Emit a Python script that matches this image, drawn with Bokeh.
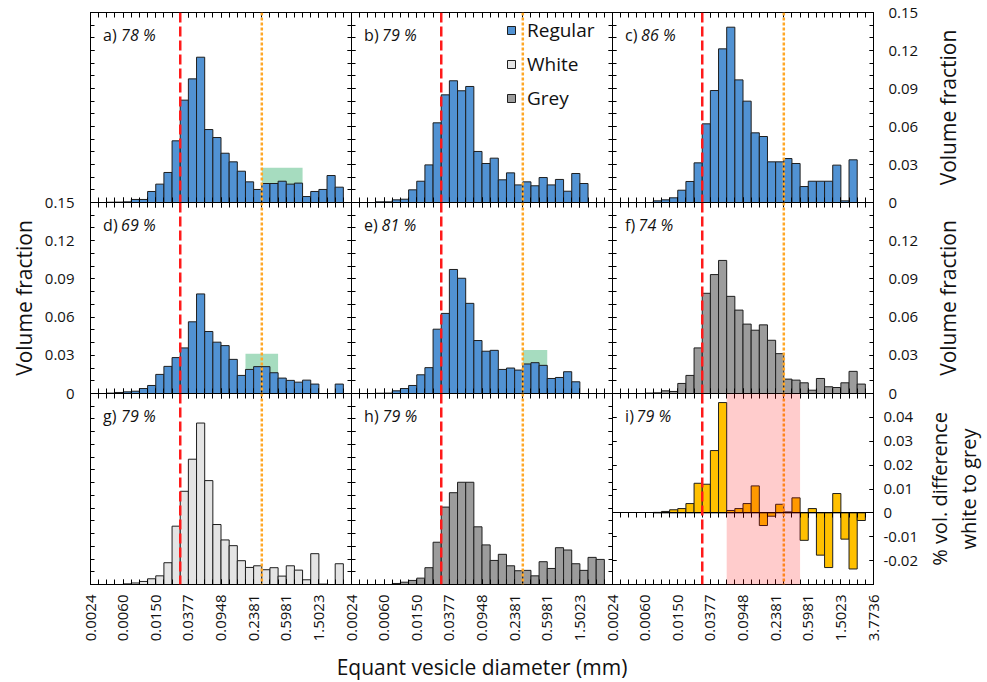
import numpy as np
from bokeh.plotting import figure
from bokeh.models import (Range1d, FixedTicker, LogAxis, LinearAxis, CustomJSTickFormatter,
                          Span, BoxAnnotation, Label, Legend, LegendItem, ColumnDataSource)
from bokeh.layouts import row, column
from bokeh.embed import file_html
from bokeh.resources import INLINE

# ------------------------------------------------------------------ data
d_max_mm = 3.7736          # upper diameter of the last bin (mm)
n_bins = 32                # 32 bins, 0.1 log10-unit wide each
diam_tick_labels = ["0.0024", "0.0060", "0.0150", "0.0377", "0.0948",
                    "0.2381", "0.5981", "1.5023", "3.7736"]
vf_tick_values = [0.0, 0.03, 0.06, 0.09, 0.12, 0.15]
vf_tick_labels = ["0", "0.03", "0.06", "0.09", "0.12", "0.15"]
diff_tick_values = [-0.02, -0.01, 0.0, 0.01, 0.02, 0.03, 0.04]
diff_tick_labels = ["-0.02", "-0.01", "0", "0.01", "0.02", "0.03", "0.04"]

panel_letters = ["a", "b", "c", "d", "e", "f", "g", "h", "i"]
panel_percent = ["78 %", "79 %", "86 %", "69 %", "81 %", "74 %", "79 %", "79 %", "79 %"]
panel_kind = ["Regular", "Regular", "Regular", "Regular", "Regular",
              "Grey", "White", "Grey", "Difference"]
right_titles = ["Volume fraction", "Volume fraction", "% vol. difference\nwhite to grey"]
x_title = "Equant vesicle diameter (mm)"
left_title = "Volume fraction"

vol_a = [0, 0, 0.0002, 0.0003, 0.0005, 0.0024, 0.0024, 0.0087, 0.0145, 0.0237, 0.0487,
         0.0808, 0.0976, 0.1147, 0.0576, 0.0513, 0.0389, 0.0321, 0.0247, 0.0163, 0.0103,
         0.0150, 0.0150, 0.0168, 0.0145, 0.0153, 0.0047, 0.0087, 0.0103, 0.0213, 0.0121, 0]
vol_b = [0, 0, 0, 0.0005, 0.0005, 0.0021, 0.0026, 0.0100, 0.0168, 0.0297, 0.0629,
         0.0850, 0.0961, 0.0882, 0.0916, 0.0403, 0.0308, 0.0350, 0.0179, 0.0234, 0.0139,
         0.0163, 0.0132, 0.0197, 0.0139, 0.0182, 0.0089, 0.0229, 0.0150, 0, 0, 0]
vol_c = [0, 0, 0, 0, 0, 0.0013, 0.0021, 0.0037, 0.0097, 0.0166, 0.0313,
         0.0621, 0.0884, 0.1213, 0.1384, 0.0968, 0.0800, 0.0550, 0.0521, 0.0321, 0.0321,
         0.0347, 0.0308, 0.0126, 0.0168, 0.0168, 0.0168, 0.0295, 0.0013, 0.0337, 0, 0]
vol_d = [0, 0, 0.0003, 0.0008, 0.0013, 0.0018, 0.0039, 0.0063, 0.0150, 0.0213, 0.0282,
         0.0358, 0.0563, 0.0782, 0.0487, 0.0403, 0.0376, 0.0268, 0.0142, 0.0189, 0.0211,
         0.0211, 0.0163, 0.0121, 0.0103, 0.0089, 0.0105, 0.0074, 0, 0, 0.0074, 0]
vol_e = [0, 0, 0, 0.0002, 0.0003, 0.0021, 0.0039, 0.0063, 0.0147, 0.0203, 0.0505,
         0.0629, 0.0974, 0.0905, 0.0708, 0.0416, 0.0332, 0.0339, 0.0189, 0.0200, 0.0184,
         0.0232, 0.0242, 0.0221, 0.0118, 0.0126, 0.0171, 0.0092, 0, 0, 0, 0]
vol_f = [0, 0, 0, 0, 0.0003, 0.0005, 0.0021, 0.0016, 0.0079, 0.0142, 0.0358,
         0.0787, 0.0934, 0.1045, 0.0763, 0.0655, 0.0545, 0.0497, 0.0539, 0.0418, 0.0313,
         0.0113, 0.0105, 0.0084, 0.0026, 0.0118, 0.0053, 0.0047, 0.0084, 0.0174, 0.0074, 0]
vol_g = [0, 0, 0, 0, 0.0005, 0.0012, 0.0024, 0.0045, 0.0068, 0.0171, 0.0458,
         0.0732, 0.0984, 0.1268, 0.0816, 0.0471, 0.0350, 0.0305, 0.0187, 0.0134, 0.0147,
         0.0116, 0.0132, 0.0066, 0.0147, 0.0113, 0.0037, 0.0242, 0.0003, 0, 0.0163, 0]
vol_h = [0, 0, 0, 0, 0, 0.0008, 0.0018, 0.0032, 0.0050, 0.0132, 0.0332,
         0.0608, 0.0721, 0.0803, 0.0803, 0.0453, 0.0311, 0.0189, 0.0237, 0.0147, 0.0108,
         0.0111, 0.0068, 0.0179, 0.0126, 0.0289, 0.0271, 0.0163, 0.0111, 0.0213, 0.0197, 0]
diff_i = [0, 0, 0, 0, 0, 0.0002, 0.0006, 0.0013, 0.0018, 0.0039, 0.0124,
          0.0120, 0.0261, 0.0462, 0.0010, 0.0018, 0.0039, 0.0113, -0.0053, -0.0014, 0.0036,
          0.0004, 0.0063, -0.0115, 0.0018, -0.0177, -0.0229, 0.0081, -0.0110, -0.0235, -0.0032, 0]
panel_values = [vol_a, vol_b, vol_c, vol_d, vol_e, vol_f, vol_g, vol_h, diff_i]

red_line_mm = 0.03
orange_line_mm = 0.30
green_panels = ["a", "d", "e"]
green_left_mm = [0.2999, 0.1892, 0.2999]
green_right_mm = [0.9481, 0.4751, 0.5981]
green_top_vf = [0.0274, 0.0312, 0.0342]
pink_left_mm = 0.0598
pink_right_mm = 0.4751

# ------------------------------------------------------------------ style
FONT = "Open Sans"
TXT = "#111111"
colors = {"Regular": "#5192d3", "White": "#e4e4e4", "Grey": "#9c9c9c", "Difference": "#ffc000"}
FW = 261
FH = [190, 191, 191]
col_b = [(90, 10), (30, 30), (10, 112)]
row_b = [(12, 10), (10, 10), (10, 96)]
letter_offsets = [18, 18, 16, 18, 17.5, 13.5, 18, 18.5, 11.5]
# right-hand title strips: (left border, right border, overlap, font size, line height)
title_strip = [(40, 0, 64, "21px", 1.2), (40, 0, 64, "21px", 1.2), (40, 19, 62, "20px", 1.05)]

edges = d_max_mm * 10.0 ** (-0.1 * (n_bins - np.arange(n_bins + 1)))
diam_ticks = edges[::4].tolist()
diam_minor = edges.tolist()
vf_minor = [round(0.01 * k, 2) for k in range(16)]
diff_minor = [round(-0.03 + 0.01 * k, 2) for k in range(9)]

JS = """
let best = 0, bd = Infinity;
for (let k = 0; k < vals.length; k++) {
  const d = Math.abs(vals[k] - tick);
  if (d < bd) { bd = d; best = k; }
}
return labels[best];
"""


def setup_axis(ax, ticks, minor, vals=None, labels=None, tick_len=4, standoff=0):
    ax.ticker = FixedTicker(ticks=list(ticks), minor_ticks=list(minor))
    ax.major_tick_in = tick_len
    ax.major_tick_out = 0
    ax.minor_tick_in = tick_len
    ax.minor_tick_out = 0
    ax.axis_line_color = "black"
    ax.major_tick_line_color = "black"
    ax.minor_tick_line_color = "black"
    if labels is None:
        ax.formatter = CustomJSTickFormatter(code="return '';")
        ax.major_label_text_font_size = "0px"
        ax.major_label_standoff = 0
    else:
        ax.formatter = CustomJSTickFormatter(args=dict(vals=list(vals), labels=list(labels)), code=JS)
        ax.major_label_text_font = FONT
        ax.major_label_text_font_size = "15px"
        ax.major_label_text_color = TXT
        ax.major_label_standoff = standoff


def axis_title(ax, text, size="21px", standoff=4, line_height=1.2):
    ax.axis_label = text
    ax.axis_label_text_font = FONT
    ax.axis_label_text_font_size = size
    ax.axis_label_text_font_style = "normal"
    ax.axis_label_text_color = TXT
    ax.axis_label_standoff = standoff
    ax.axis_label_text_line_height = line_height


def make_panel(idx):
    r, c = divmod(idx, 3)
    kind = panel_kind[idx]
    is_diff = kind == "Difference"
    y0, y1 = (-0.03, 0.05) if is_diff else (0.0, 0.15)
    p = figure(frame_width=FW, frame_height=FH[r], x_axis_type="log", title=None,
               x_range=Range1d(edges[0], edges[-1]), y_range=Range1d(y0, y1),
               tools="", toolbar_location=None, output_backend="svg",
               min_border_left=col_b[c][0], min_border_right=col_b[c][1],
               min_border_top=row_b[r][0], min_border_bottom=row_b[r][1])
    p.border_fill_alpha = 0
    p.background_fill_alpha = 0
    p.outline_line_color = "black"
    p.xgrid.visible = False
    p.ygrid.visible = False

    top_ax = LogAxis()
    right_ax = LinearAxis()
    p.add_layout(top_ax, "above")
    p.add_layout(right_ax, "right")
    bottom_ax = p.below[0]
    left_ax = p.left[0]

    # x axes
    setup_axis(top_ax, diam_ticks, diam_minor, tick_len=5)
    if r == 2:
        tk = diam_ticks if c == 2 else diam_ticks[:-1]
        lb = diam_tick_labels if c == 2 else diam_tick_labels[:-1]
        setup_axis(bottom_ax, tk, diam_minor, vals=tk, labels=lb, tick_len=5, standoff=10)
        bottom_ax.major_label_orientation = np.pi / 2
        if c == 1:
            axis_title(bottom_ax, x_title, standoff=9)
    else:
        setup_axis(bottom_ax, diam_ticks, diam_minor, tick_len=5)

    # y axes
    if is_diff:
        setup_axis(left_ax, diff_minor, diff_minor)
        setup_axis(right_ax, diff_tick_values, diff_minor, vals=diff_tick_values,
                   labels=diff_tick_labels, standoff=10)
        # tick marks hanging from the zero line
        zero_ax = LogAxis(fixed_location=0)
        p.add_layout(zero_ax, "above")
        setup_axis(zero_ax, diam_ticks, diam_minor, tick_len=5)
    else:
        if idx == 3:
            setup_axis(left_ax, vf_tick_values, vf_minor, vals=vf_tick_values,
                       labels=vf_tick_labels, standoff=16)
            axis_title(left_ax, left_title, standoff=4)
        else:
            setup_axis(left_ax, vf_tick_values, vf_minor)
        if idx in (2, 5):
            tk = vf_tick_values if idx == 2 else vf_tick_values[:-1]
            lb = vf_tick_labels if idx == 2 else vf_tick_labels[:-1]
            setup_axis(right_ax, tk, vf_minor, vals=tk, labels=lb, standoff=15)
        else:
            setup_axis(right_ax, vf_tick_values, vf_minor)

    letter = panel_letters[idx]
    if letter in green_panels:
        g = green_panels.index(letter)
        p.quad(left=[green_left_mm[g]], right=[green_right_mm[g]], bottom=[0],
               top=[green_top_vf[g]], fill_color="#a6dcbf", line_alpha=0)

    vals = np.array(panel_values[idx])
    mask = vals != 0
    src = ColumnDataSource(dict(left=edges[:-1][mask], right=edges[1:][mask], top=vals[mask]))
    bars = p.quad(left="left", right="right", bottom=0, top="top", source=src,
                  fill_color=colors[kind], line_color="#1e1e1e", line_width=1)

    p.add_layout(Span(location=red_line_mm, dimension="height", line_color="#ff1a1a",
                      line_width=2.5, line_dash="10 4"))
    p.add_layout(Span(location=orange_line_mm, dimension="height", line_color="#ffa726",
                      line_width=2.5, line_dash="3 2"))
    if is_diff:
        p.add_layout(BoxAnnotation(left=pink_left_mm, right=pink_right_mm, fill_color="red",
                                   fill_alpha=0.2, line_alpha=0))

    ytext = y1 - 0.118 * (y1 - y0)
    p.add_layout(Label(x=0.0034, y=ytext, text=f"{letter})", text_font=FONT,
                       text_font_size="16px", text_baseline="middle", text_color=TXT))
    p.add_layout(Label(x=0.0034, y=ytext, x_offset=letter_offsets[idx], text=panel_percent[idx],
                       text_font=FONT, text_font_size="16px", text_font_style="italic",
                       text_baseline="middle", text_color=TXT))

    if letter == "b":
        # legend swatches for the other two vesicle types (zero-size, outside the data)
        rw = p.quad(left=[edges[0]], right=[edges[0]], bottom=[0], top=[0],
                    fill_color=colors["White"], line_color="#1e1e1e")
        rg = p.quad(left=[edges[0]], right=[edges[0]], bottom=[0], top=[0],
                    fill_color=colors["Grey"], line_color="#1e1e1e")
        legend = Legend(items=[LegendItem(label="Regular", renderers=[bars]),
                               LegendItem(label="White", renderers=[rw]),
                               LegendItem(label="Grey", renderers=[rg])],
                        location=(155, 91), orientation="vertical", padding=0, margin=0,
                        spacing=8, glyph_width=10, glyph_height=10, label_standoff=11,
                        label_height=20, label_text_font=FONT, label_text_font_size="19px",
                        label_text_color=TXT, border_line_alpha=0, background_fill_alpha=0)
        p.add_layout(legend)
    return p


def title_strip_fig(r):
    """Narrow strip whose axis carries the right-hand title of row r (reads bottom-to-top)."""
    left_b, right_b, overlap, size, lh = title_strip[r]
    q = figure(frame_width=1, frame_height=FH[r], title=None, x_axis_location=None,
               y_axis_location="left", x_range=Range1d(0, 1), y_range=Range1d(0, 1),
               tools="", toolbar_location=None, output_backend="svg",
               min_border_left=left_b, min_border_right=right_b,
               min_border_top=row_b[r][0], min_border_bottom=row_b[r][1])
    q.border_fill_alpha = 0
    q.background_fill_alpha = 0
    q.outline_line_color = None
    q.xgrid.visible = False
    q.ygrid.visible = False
    ax = q.left[0]
    ax.ticker = FixedTicker(ticks=[])
    ax.axis_line_color = None
    ax.major_tick_line_color = None
    ax.minor_tick_line_color = None
    ax.major_label_text_font_size = "0px"
    ax.major_label_standoff = 0
    axis_title(ax, right_titles[r], size=size, standoff=0, line_height=lh)
    q.margin = (0, 0, 0, -overlap)
    return q


figs = [make_panel(k) for k in range(9)]
rows = []
for r in range(3):
    fr = figs[3 * r:3 * r + 3]
    fr[1].margin = (0, 0, 0, -(col_b[0][1] + col_b[1][0]))
    fr[2].margin = (0, 0, 0, -(col_b[1][1] + col_b[2][0]))
    rw = row(*fr, title_strip_fig(r))
    if r > 0:
        rw.margin = (-(row_b[r - 1][1] + row_b[r][0]), 0, 0, 0)
    rows.append(rw)
layout = column(*rows)

open("out.html", "w").write(file_html(layout, INLINE, title="Vesicle size distributions"))
